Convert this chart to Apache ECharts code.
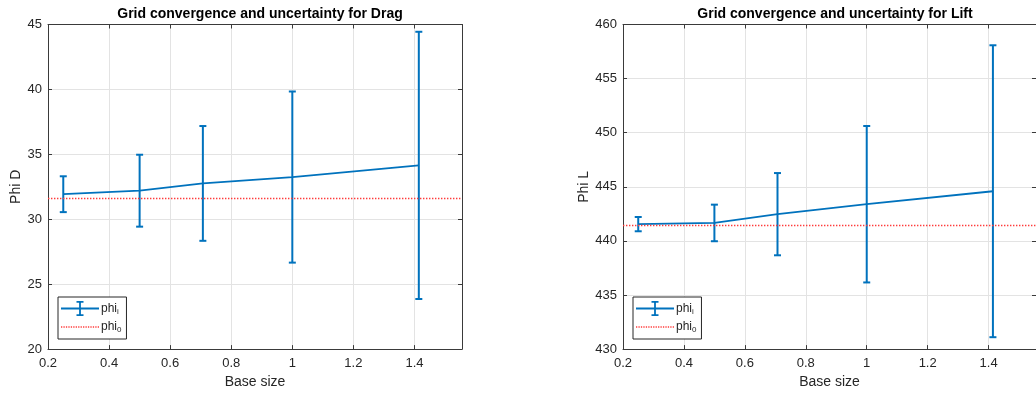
<!DOCTYPE html>
<html>
<head>
<meta charset="utf-8">
<title>Grid convergence and uncertainty</title>
<script src="https://cdn.jsdelivr.net/npm/echarts@6/dist/echarts.min.js"></script>
<style>
  html, body { margin: 0; padding: 0; background: #ffffff; }
  #chart { width: 1036px; height: 394px; }
</style>
</head>
<body>
<div id="chart"></div>
<script>
// Grid base sizes (shared by both studies)
const baseSize = [0.25, 0.5, 0.7071, 1.0, 1.4142];

// Drag study: solution per grid, uncertainty band half-width, extrapolated value
const dragPhi = [31.93, 32.2, 32.76, 33.25, 34.15];
const dragErr = [1.38, 2.77, 4.42, 6.59, 10.29];
const dragPhi0 = 31.6;

// Lift study
const liftPhi = [441.55, 441.66, 442.47, 443.39, 444.59];
const liftErr = [0.66, 1.69, 3.8, 7.23, 13.49];
const liftPhi0 = 441.43;

// Axis ranges and tick steps
const xRange = [0.2, 1.5556];
const xStep = 0.2;
const dragRange = [20, 45];
const liftRange = [430, 460];
const yStep = 5;

const titles = ['Grid convergence and uncertainty for Drag', 'Grid convergence and uncertainty for Lift'];
const yNames = ['Phi D', 'Phi L'];
const xName = 'Base size';

const BLUE = '#0072BD';
const RED = '#ff3b3b';
const INK = '#262626';
const FONT = '"Liberation Sans", Arial, Helvetica, sans-serif';

const grids = [
  { left: 48, top: 24.5, width: 414, height: 326 },
  { left: 623, top: 24.5, width: 414, height: 326 }
];

function xLabel(v) {
  const k = Math.round(v / xStep * 1e6) / 1e6;
  if (Math.abs(k - Math.round(k)) > 1e-6) return '';
  return String(Math.round(v * 10) / 10);
}

function makeAxes(gi, yRange) {
  const common = {
    gridIndex: gi,
    axisLine: { show: true, lineStyle: { color: '#3a3a3a', width: 1 } },
    axisTick: { show: true, inside: true, length: 4, lineStyle: { color: '#3a3a3a' } },
  };
  const xs = [
    Object.assign({}, common, {
      type: 'value', position: 'bottom', min: xRange[0], max: xRange[1], interval: xStep,
      name: xName, nameLocation: 'middle', nameGap: 25,
      nameTextStyle: { fontFamily: FONT, fontSize: 14, color: INK },
      axisLabel: { fontFamily: FONT, fontSize: 13, color: INK, margin: 8, formatter: xLabel, showMaxLabel: false },
      splitLine: { show: true, lineStyle: { color: '#e3e3e3', width: 1 } }
    }),
    Object.assign({}, common, {
      type: 'value', position: 'top', min: xRange[0], max: xRange[1], interval: xStep,
      axisLabel: { show: false }, splitLine: { show: false }
    })
  ];
  const ys = [
    Object.assign({}, common, {
      type: 'value', position: 'left', min: yRange[0], max: yRange[1], interval: yStep,
      name: yNames[gi], nameLocation: 'middle', nameGap: 25,
      nameTextStyle: { fontFamily: FONT, fontSize: 14, color: INK },
      axisLabel: { fontFamily: FONT, fontSize: 13, color: INK, margin: 6 },
      splitLine: { show: true, lineStyle: { color: '#e3e3e3', width: 1 } }
    }),
    Object.assign({}, common, {
      type: 'value', position: 'right', min: yRange[0], max: yRange[1], interval: yStep,
      axisLabel: { show: false }, splitLine: { show: false }
    })
  ];
  return { xs, ys };
}

// Vertical error bar with short caps at both ends
function errorBarItem(params, api) {
  const x = api.value(0), v = api.value(1), e = api.value(2);
  const top = api.coord([x, v + e]);
  const bot = api.coord([x, v - e]);
  const half = 3.5;
  const style = { stroke: BLUE, lineWidth: 2, fill: null };
  return {
    type: 'group',
    children: [
      { type: 'line', shape: { x1: top[0], y1: top[1], x2: bot[0], y2: bot[1] }, style },
      { type: 'line', shape: { x1: top[0] - half, y1: top[1], x2: top[0] + half, y2: top[1] }, style },
      { type: 'line', shape: { x1: bot[0] - half, y1: bot[1], x2: bot[0] + half, y2: bot[1] }, style }
    ]
  };
}

function makeSeries(gi, phi, err, phi0) {
  const xi = gi * 2, yi = gi * 2;
  return [
    {
      name: 'phi_i', type: 'line', xAxisIndex: xi, yAxisIndex: yi,
      data: baseSize.map((x, i) => [x, phi[i]]),
      showSymbol: false, symbol: 'none', animation: false,
      lineStyle: { color: BLUE, width: 1.8 }, itemStyle: { color: BLUE }, z: 3
    },
    {
      name: 'phi_i', type: 'custom', xAxisIndex: xi, yAxisIndex: yi,
      data: baseSize.map((x, i) => [x, phi[i], err[i]]),
      renderItem: errorBarItem, encode: { x: 0, y: 1 }, animation: false,
      itemStyle: { color: BLUE }, z: 3
    },
    {
      name: 'phi_0', type: 'line', xAxisIndex: xi, yAxisIndex: yi, data: [],
      itemStyle: { color: RED }, lineStyle: { color: RED }, animation: false,
      markLine: {
        silent: true, symbol: 'none', animation: false,
        label: { show: false },
        lineStyle: { color: RED, width: 1.3, type: [1.4, 1.6] },
        data: [{ yAxis: phi0 }]
      },
      z: 2
    }
  ];
}

// Legend glyphs: error bar (line + capped whisker) and dotted rule
const iconErr = 'path://M0,6.6h38v1.8h-38Z M18.1,0h1.8v15h-1.8Z M15.5,0h7v1.7h-7Z M15.5,13.3h7v1.7h-7Z';
let dots = 'path://';
for (let i = 0; i < 38; i += 2.5) dots += 'M' + i + ',0h1.3v1.3h-1.3Z ';

function makeLegend(gi) {
  return {
    orient: 'vertical',
    left: grids[gi].left + 10, top: 297,
    padding: [4, 5, 5, 3], itemGap: 5,
    itemWidth: 38, itemHeight: 15, symbolKeepAspect: true,
    borderColor: INK, borderWidth: 1, backgroundColor: '#ffffff',
    selectedMode: false,
    textStyle: {
      fontFamily: FONT, fontSize: 12, color: INK, padding: [0, 0, 0, -3],
      rich: {
        b: { fontFamily: FONT, fontSize: 12, color: INK },
        s: { fontFamily: FONT, fontSize: 8, color: INK, verticalAlign: 'bottom', padding: [6, 0, 0, 0] }
      }
    },
    formatter: name => {
      const p = name.split('_');
      return '{b|' + p[0] + '}{s|' + p[1] + '}';
    },
    data: [
      { name: 'phi_i', icon: iconErr, itemStyle: { color: BLUE, borderWidth: 0 } },
      { name: 'phi_0', icon: dots, itemStyle: { color: RED, borderWidth: 0 } }
    ]
  };
}

const a0 = makeAxes(0, dragRange);
const a1 = makeAxes(1, liftRange);

const option = {
  animation: false,
  backgroundColor: '#ffffff',
  title: titles.map((t, i) => ({
    text: t,
    left: grids[i].left + grids[i].width / 2, top: 2, textAlign: 'center',
    textStyle: { fontFamily: FONT, fontSize: 14, fontWeight: 'bold', color: '#000000' }
  })),
  grid: grids,
  legend: [makeLegend(0), makeLegend(1)],
  xAxis: [...a0.xs, ...a1.xs],
  yAxis: [...a0.ys, ...a1.ys],
  series: [
    ...makeSeries(0, dragPhi, dragErr, dragPhi0),
    ...makeSeries(1, liftPhi, liftErr, liftPhi0)
  ]
};

const chart = echarts.init(document.getElementById('chart'), null, { renderer: 'canvas' });
chart.setOption(option);
</script>
</body>
</html>
